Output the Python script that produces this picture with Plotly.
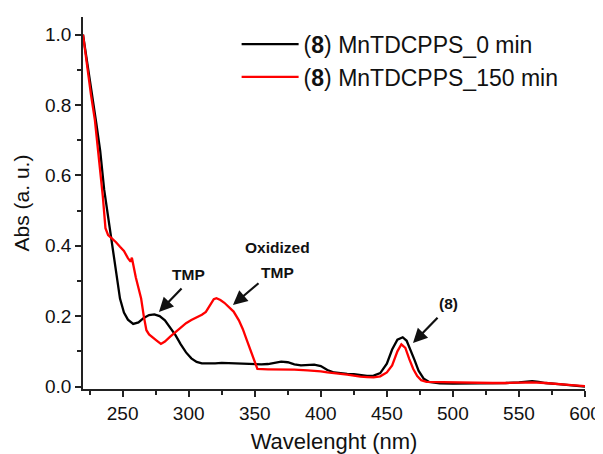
import plotly.graph_objects as go

# ---- data ----
wl_0 = [220, 223, 226, 230, 233, 236, 239, 242, 245, 248, 251, 254, 258, 262, 266, 270, 274, 278,
        282, 286, 290, 294, 298, 302, 306, 310, 315, 320, 325, 330, 335, 340, 345, 350, 355, 360,
        365, 370, 375, 380, 385, 390, 395, 400, 405, 410, 415, 420, 425, 430, 435, 440, 445, 450,
        454, 458, 462, 465, 468, 471, 474, 478, 482, 486, 490, 500, 510, 520, 530, 540, 550, 555,
        560, 565, 570, 580, 590, 600]
abs_0 = [1.000, 0.93, 0.85, 0.75, 0.67, 0.56, 0.48, 0.41, 0.32, 0.25, 0.21, 0.19, 0.178, 0.182,
         0.195, 0.203, 0.205, 0.200, 0.188, 0.168, 0.146, 0.120, 0.097, 0.080, 0.070, 0.066, 0.065,
         0.066, 0.067, 0.066, 0.066, 0.065, 0.064, 0.063, 0.063, 0.064, 0.068, 0.071, 0.069, 0.063,
         0.060, 0.061, 0.062, 0.058, 0.047, 0.040, 0.037, 0.036, 0.035, 0.032, 0.030, 0.031, 0.038,
         0.065, 0.105, 0.133, 0.140, 0.130, 0.105, 0.075, 0.045, 0.022, 0.013, 0.010, 0.009, 0.008,
         0.008, 0.008, 0.009, 0.010, 0.012, 0.014, 0.015, 0.013, 0.010, 0.007, 0.004, 0.000]

wl_150 = [220, 223, 226, 229, 232, 235, 237, 239, 242, 245, 248, 251, 254, 256, 257, 258, 260, 262,
          264, 266, 268, 270, 273, 276, 279, 282, 286, 290, 294, 298, 302, 306, 310, 313, 316, 319,
          321, 324, 327, 330, 334, 338, 341, 344, 347, 350, 352, 360, 370, 380, 390, 396, 400, 405,
          410, 415, 420, 425, 430, 435, 440, 445, 450, 454, 458, 461, 464, 467, 470, 473, 476, 480,
          490, 500, 510, 520, 530, 540, 550, 555, 560, 570, 580, 590, 600]
abs_150 = [1.000, 0.91, 0.83, 0.757, 0.65, 0.54, 0.45, 0.43, 0.42, 0.41, 0.397, 0.385, 0.365, 0.355,
           0.366, 0.345, 0.31, 0.28, 0.25, 0.20, 0.16, 0.148, 0.140, 0.130, 0.121, 0.128, 0.142,
           0.155, 0.167, 0.180, 0.189, 0.196, 0.204, 0.212, 0.230, 0.248, 0.251, 0.246, 0.238,
           0.228, 0.213, 0.188, 0.163, 0.132, 0.100, 0.068, 0.050, 0.049, 0.049, 0.048, 0.046,
           0.045, 0.043, 0.040, 0.037, 0.036, 0.034, 0.030, 0.028, 0.027, 0.026, 0.029, 0.040,
           0.060, 0.100, 0.120, 0.110, 0.078, 0.050, 0.030, 0.018, 0.013, 0.012, 0.011, 0.011,
           0.010, 0.010, 0.010, 0.012, 0.013, 0.012, 0.010, 0.008, 0.004, 0.001]

series_names = ["(<b>8</b>) MnTDCPPS_0 min", "(<b>8</b>) MnTDCPPS_150 min"]
x_ticks = [250, 300, 350, 400, 450, 500, 550, 600]
y_ticks = [0.0, 0.2, 0.4, 0.6, 0.8, 1.0]

FONT = "Liberation Sans, Arial, sans-serif"

fig = go.Figure()
fig.add_trace(go.Scatter(x=wl_0, y=abs_0, mode="lines", name=series_names[0],
                         line=dict(color="black", width=2.3)))
fig.add_trace(go.Scatter(x=wl_150, y=abs_150, mode="lines", name=series_names[1],
                         line=dict(color="#ff0000", width=2.3)))

axis_common = dict(showline=True, linecolor="#222", linewidth=1.5, ticks="outside",
                   ticklen=6, tickwidth=1.5, tickcolor="#222", showgrid=False, zeroline=False,
                   automargin=False,
                   tickfont=dict(family=FONT, size=19, color="#111"))

fig.update_xaxes(range=[220, 600], tickvals=x_ticks, ticktext=[str(v) for v in x_ticks],
                 minor=dict(dtick=25, tick0=225, ticks="outside", ticklen=4, tickwidth=1.5,
                            tickcolor="#222"),
                 title=dict(text="Wavelenght (nm)", font=dict(family=FONT, size=22, color="#111"),
                            standoff=12),
                 **axis_common)
fig.update_yaxes(range=[-0.007, 1.05], tickvals=y_ticks, ticktext=[f"{v:.1f}" for v in y_ticks],
                 minor=dict(dtick=0.1, tick0=0, ticks="outside", ticklen=4, tickwidth=1.5,
                            tickcolor="#222"),
                 title=dict(text="Abs (a. u.)", font=dict(family=FONT, size=21, color="#111"),
                            standoff=10),
                 **axis_common)

ann_font = dict(family=FONT, size=15.5, color="#111")
annotations = [
    dict(x=299.5, y=0.317, text="<b>TMP</b>", showarrow=False, font=ann_font),
    dict(x=366.9, y=0.396, text="<b>Oxidized</b>", showarrow=False, font=ann_font),
    dict(x=366.9, y=0.325, text="<b>TMP</b>", showarrow=False, font=ann_font),
    dict(x=496.3, y=0.237, text="<b>(8)</b>", showarrow=False, font=ann_font),
]
arrows = [((277.5, 0.212), (295.7, 0.283)),
          ((333.5, 0.232), (354.0, 0.297)),
          ((469.8, 0.124), (489.5, 0.200))]
for (hx, hy), (tx, ty) in arrows:
    annotations.append(dict(x=hx, y=hy, ax=tx, ay=ty, xref="x", yref="y", axref="x", ayref="y",
                            text="", showarrow=True, arrowhead=2, arrowsize=1.3, arrowwidth=2.2,
                            arrowcolor="#111"))

fig.update_layout(
    width=595, height=446,
    margin=dict(l=75, r=18, t=9, b=65, autoexpand=False),
    paper_bgcolor="white", plot_bgcolor="white",
    annotations=annotations,
    legend=dict(x=0.306, y=0.985, xanchor="left", yanchor="top",
                font=dict(family=FONT, size=23, color="#111"),
                itemwidth=57,
                bgcolor="rgba(0,0,0,0)", tracegroupgap=0),
    showlegend=True,
)

fig.write_html("out.html")
